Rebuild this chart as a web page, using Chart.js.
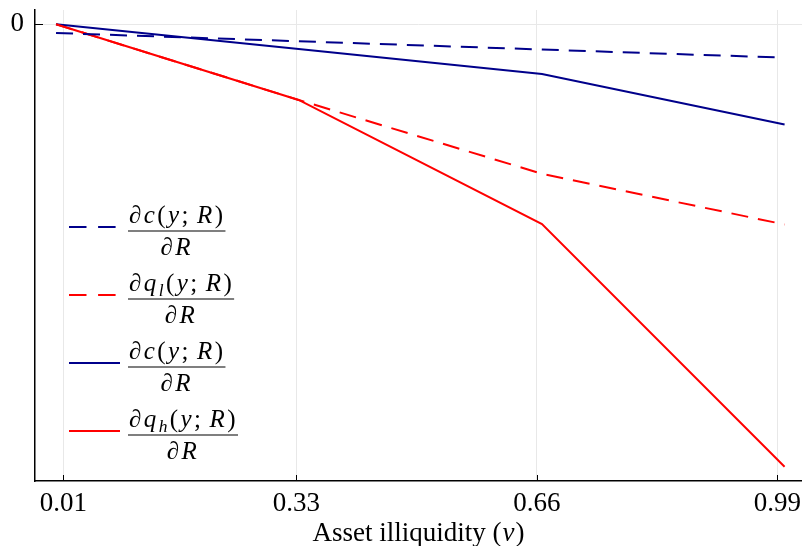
<!DOCTYPE html>
<html>
<head>
<meta charset="utf-8">
<script src="https://cdn.jsdelivr.net/npm/chart.js@4"></script>
<style>
  html, body { margin: 0; padding: 0; background: #fff; }
  #wrap { width: 802px; height: 546px; }
</style>
</head>
<body>
<div id="wrap"><canvas id="grafico"></canvas></div>
<script>
// values
const nu = [0, 0.333, 0.667, 1.0];
const dcDashed = [-0.0197, -0.0384, -0.0570, -0.0755];
const dqlDashed = [0, -0.171, -0.338, -0.4525];
const dcSolid = [0, -0.0558, -0.1123, -0.2265];
const dqhSolid = [0, -0.171, -0.4514, -1.0];

const xTicks = [0.01, 0.33, 0.66, 0.99];
const yTicks = [0];

// legend: numerator text, '_' marks a subscript
const legendNum = ['∂c(y; R)', '∂q_l(y; R)', '∂c(y; R)', '∂q_h(y; R)'];
const legendDen = ['∂R', '∂R', '∂R', '∂R'];

const AZUL = '#00008b';
const ROJO = '#ff0000';
const FONT = '"Liberation Serif", "Times New Roman", serif';

function puntos(ys) {
    let out = [];
    for (let i = 0; i < nu.length; i++) {
        out.push({ x: nu[i], y: ys[i] });
    }
    return out;
}

// draws a small piece of math text, letters in italic
function textoMath(ctx, s, x, y, size, dibujar) {
    let cx = x;
    for (let i = 0; i < s.length; i++) {
        let ch = s[i];
        let sub = false;
        if (ch === '_') { sub = true; i++; ch = s[i]; }
        const it = /[a-zA-Z∂ν]/.test(ch);
        const fs = sub ? size * 0.7 : size;
        ctx.font = (it ? 'italic ' : '') + fs + 'px ' + FONT;
        const w = ctx.measureText(ch).width;
        if (dibujar) ctx.fillText(ch, cx, y + (sub ? size * 0.2 : 0));
        cx += w + (ch === ' ' ? 0 : 2.4);
    }
    return cx - x;
}

const leyenda = {
    id: 'leyenda',
    afterDraw(chart) {
        const ctx = chart.ctx;
        const a = chart.chartArea;
        const estilos = chart.data.datasets;
        ctx.save();

        // inward ticks
        ctx.strokeStyle = '#000';
        ctx.lineWidth = 1;
        const sx = chart.scales.x, sy = chart.scales.y;
        xTicks.forEach(v => {
            const px = Math.round(sx.getPixelForValue(v)) + 0.5;
            ctx.beginPath(); ctx.moveTo(px, a.bottom); ctx.lineTo(px, a.bottom - 6); ctx.stroke();
        });
        yTicks.forEach(v => {
            const py = Math.round(sy.getPixelForValue(v)) + 0.5;
            ctx.beginPath(); ctx.moveTo(a.left, py); ctx.lineTo(a.left + 8, py); ctx.stroke();
        });

        // legend entries
        const size = 25;
        for (let i = 0; i < legendNum.length; i++) {
            const ds = estilos[i];
            const ly = 227 + i * 68;
            ctx.strokeStyle = ds.borderColor;
            ctx.lineWidth = 2;
            ctx.setLineDash(ds.borderDash ? [17.5, 11.6] : []);
            ctx.beginPath(); ctx.moveTo(69, ly); ctx.lineTo(120, ly); ctx.stroke();
            ctx.setLineDash([]);

            const barY = 231 + i * 68;
            const x0 = 129;
            ctx.fillStyle = '#000';
            ctx.textBaseline = 'alphabetic';
            ctx.textAlign = 'left';
            const wNum = textoMath(ctx, legendNum[i], x0, barY - 8, size, false);
            textoMath(ctx, legendNum[i], x0, barY - 8, size, true);
            const wBar = wNum + 1;
            ctx.strokeStyle = '#000';
            ctx.lineWidth = 1.2;
            ctx.beginPath(); ctx.moveTo(x0 - 1, barY); ctx.lineTo(x0 - 1 + wBar, barY); ctx.stroke();
            const wDen = textoMath(ctx, legendDen[i], 0, 0, size, false);
            textoMath(ctx, legendDen[i], x0 - 1 + (wBar - wDen) / 2, barY + 24, size, true);
        }

        // x axis title
        const ts = 27;
        ctx.font = ts + 'px ' + FONT;
        const t1 = 'Asset illiquidity (';
        const w1 = ctx.measureText(t1).width;
        ctx.font = 'italic ' + ts + 'px ' + FONT;
        const w2 = ctx.measureText('ν').width + 2;
        ctx.font = ts + 'px ' + FONT;
        const w3 = ctx.measureText(')').width;
        let tx = (a.left + a.right) / 2 - (w1 + w2 + w3) / 2;
        const ty = 541;
        ctx.fillText(t1, tx, ty);
        ctx.font = 'italic ' + ts + 'px ' + FONT;
        ctx.fillText('ν', tx + w1 + 1, ty);
        ctx.font = ts + 'px ' + FONT;
        ctx.fillText(')', tx + w1 + w2, ty);
        ctx.restore();
    }
};

const ctx = document.getElementById('grafico').getContext('2d');
new Chart(ctx, {
    type: 'line',
    data: {
        datasets: [{
            label: 'dc dashed',
            data: puntos(dcDashed),
            borderColor: AZUL,
            borderDash: [17, 10],
            borderWidth: 2
        }, {
            label: 'dql dashed',
            data: puntos(dqlDashed),
            borderColor: ROJO,
            borderDash: [17, 10],
            borderWidth: 2
        }, {
            label: 'dc solid',
            data: puntos(dcSolid),
            borderColor: AZUL,
            borderWidth: 2
        }, {
            label: 'dqh solid',
            data: puntos(dqhSolid),
            borderColor: ROJO,
            borderWidth: 2
        }]
    },
    options: {
        responsive: true,
        maintainAspectRatio: false,
        animation: false,
        layout: { padding: { left: 0, top: 10, right: 0, bottom: 0 } },
        elements: {
            point: { radius: 0 },
            line: { tension: 0, fill: false }
        },
        plugins: {
            legend: { display: false },
            title: { display: false },
            tooltip: { enabled: false }
        },
        scales: {
            x: {
                type: 'linear',
                min: -0.0289,
                max: 1.0239,
                afterBuildTicks: s => { s.ticks = xTicks.map(v => ({ value: v })); },
                afterFit: s => {
                    s.height = 65;
                    s.paddingLeft = 0; s.paddingRight = 0;
                    s.paddingTop = 0; s.paddingBottom = 0;
                },
                ticks: {
                    autoSkip: false,
                    maxRotation: 0,
                    padding: 7,
                    color: '#000',
                    font: { family: FONT, size: 27 },
                    callback: v => v.toFixed(2)
                },
                grid: { color: '#e8e8e8', lineWidth: 1, drawTicks: false },
                border: { display: true, color: '#000', width: 1.5 }
            },
            y: {
                min: -1.0323,
                max: 0.0323,
                afterBuildTicks: s => { s.ticks = yTicks.map(v => ({ value: v })); },
                afterFit: s => {
                    s.width = 35;
                    s.paddingLeft = 0; s.paddingRight = 0;
                    s.paddingTop = 0; s.paddingBottom = 0;
                },
                ticks: {
                    padding: 11,
                    color: '#000',
                    font: { family: FONT, size: 27 },
                    callback: v => String(v)
                },
                grid: { color: '#e8e8e8', lineWidth: 1, drawTicks: false },
                border: { display: true, color: '#000', width: 1.5 }
            }
        }
    },
    plugins: [leyenda]
});
</script>
</body>
</html>
